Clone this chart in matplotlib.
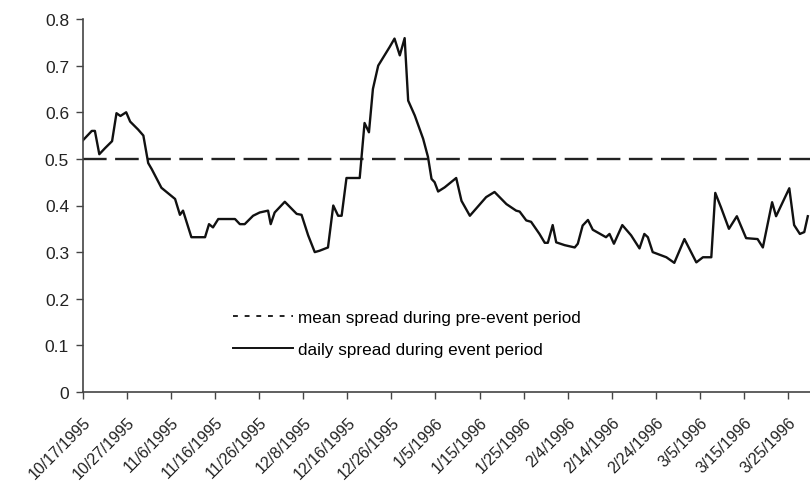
import matplotlib
matplotlib.use("Agg")
import matplotlib.pyplot as plt
from matplotlib.lines import Line2D
from matplotlib.transforms import ScaledTranslation

plt.rcParams['font.family'] = ['Liberation Sans', 'DejaVu Sans']

# days since 10/17/1995
day_offset = [0, 2.0, 2.7, 3.7, 5.0, 6.6, 7.6, 8.5, 9.8, 10.7, 12.5, 13.7, 14.8, 15.6, 17.8,
              20.9, 22.0, 22.7, 24.6, 27.7, 28.6, 29.5, 30.7, 34.5, 35.6, 36.7, 38.6, 40.1,
              42.0, 42.6, 43.5, 45.8, 48.5, 49.6, 51.1, 52.6, 53.7, 55.6, 56.8, 57.9, 58.7,
              59.8, 62.8, 63.9, 64.9, 65.8, 67.0, 69.6, 70.7, 71.9, 73.0, 73.8, 75.3, 77.2,
              78.3, 79.1, 79.8, 80.6, 82.1, 84.7, 85.9, 87.8, 91.5, 93.4, 96.1, 98.3, 99.1,
              100.6, 101.7, 103.6, 104.8, 105.5, 106.6, 107.4, 109.3, 111.6, 112.3, 113.4,
              114.6, 115.7, 118.7, 119.5, 120.5, 122.4, 124.4, 126.3, 127.4, 128.2, 129.3,
              132.4, 134.2, 136.5, 139.2, 140.7, 142.6, 143.5, 144.8, 146.6, 148.4, 150.5,
              153.1, 154.3, 156.4, 157.3, 160.3, 161.4, 162.7, 163.7, 164.5]
daily_spread = [0.54, 0.56, 0.56, 0.51, 0.523, 0.538, 0.598, 0.592, 0.60, 0.58, 0.563, 0.55,
                0.491, 0.478, 0.438, 0.414, 0.38, 0.389, 0.332, 0.332, 0.36, 0.353, 0.371,
                0.371, 0.36, 0.36, 0.378, 0.385, 0.389, 0.36, 0.385, 0.408, 0.382, 0.38,
                0.336, 0.30, 0.303, 0.31, 0.40, 0.378, 0.378, 0.459, 0.459, 0.577, 0.557,
                0.65, 0.70, 0.74, 0.758, 0.722, 0.759, 0.625, 0.593, 0.543, 0.504, 0.457,
                0.45, 0.43, 0.439, 0.459, 0.41, 0.378, 0.418, 0.429, 0.403, 0.389, 0.387,
                0.368, 0.365, 0.339, 0.32, 0.32, 0.358, 0.321, 0.315, 0.31, 0.318, 0.357,
                0.369, 0.348, 0.332, 0.339, 0.318, 0.358, 0.336, 0.308, 0.339, 0.332, 0.30,
                0.289, 0.277, 0.328, 0.278, 0.289, 0.289, 0.427, 0.396, 0.35, 0.377, 0.33,
                0.328, 0.31, 0.407, 0.377, 0.437, 0.358, 0.339, 0.343, 0.377]
mean_spread = 0.5

tick_days = [0, 10, 20, 30, 40, 50, 60, 70, 80, 90, 100, 110, 120, 130, 140, 150, 160]
tick_labels = ['10/17/1995', '10/27/1995', '11/6/1995', '11/16/1995', '11/26/1995',
               '12/8/1995', '12/16/1995', '12/26/1995', '1/5/1996', '1/15/1996',
               '1/25/1996', '2/4/1996', '2/14/1996', '2/24/1996', '3/5/1996',
               '3/15/1996', '3/25/1996']
y_ticks = [0, 0.1, 0.2, 0.3, 0.4, 0.5, 0.6, 0.7, 0.8]
y_labels = ['0', '0.1', '0.2', '0.3', '0.4', '0.5', '0.6', '0.7', '0.8']
legend_labels = ['mean spread during pre-event period', 'daily spread during event period']

fig = plt.figure(figsize=(8.1, 4.85), dpi=100)
ax = fig.add_axes([83/810, (485-393)/485, (810-83)/810, (393-20)/485])

ax.axhline(mean_spread, color='#222222', lw=1.7, dashes=(10.0, 3.6))
ax.plot(day_offset, daily_spread, color='#111111', lw=1.7)

ax.set_xlim(0, 165)
ax.set_ylim(0, 0.8)
ax.set_yticks(y_ticks)
ax.set_yticklabels(y_labels, fontsize=12.5, color='#222222')
ax.set_xticks(tick_days)
ax.set_xticklabels(tick_labels, fontsize=11.5, rotation=45, ha='right', va='top',
                   rotation_mode='anchor', color='#222222')
shift = ScaledTranslation(-6/100, 0, fig.dpi_scale_trans)
for lab in ax.get_xticklabels():
    lab.set_transform(lab.get_transform() + shift)
ax.tick_params(axis='x', direction='out', length=5, width=1, color='#444444', pad=11)
ax.tick_params(axis='y', direction='out', length=5, width=1, color='#444444', pad=5)

for s in ['top', 'right']:
    ax.spines[s].set_visible(False)
for s in ['left', 'bottom']:
    ax.spines[s].set_color('#444444')
    ax.spines[s].set_linewidth(1.2)

handles = [Line2D([], [], color='#222222', lw=1.4, dashes=(2.5, 3.5)),
           Line2D([], [], color='#111111', lw=1.4)]
ax.legend(handles, legend_labels, loc='upper left', bbox_to_anchor=(0.206, 0.221),
          frameon=False, fontsize=12.3, handlelength=3.5, handletextpad=0.3,
          labelspacing=1.0, borderpad=0, borderaxespad=0)

fig.savefig('out.png', dpi=100)
